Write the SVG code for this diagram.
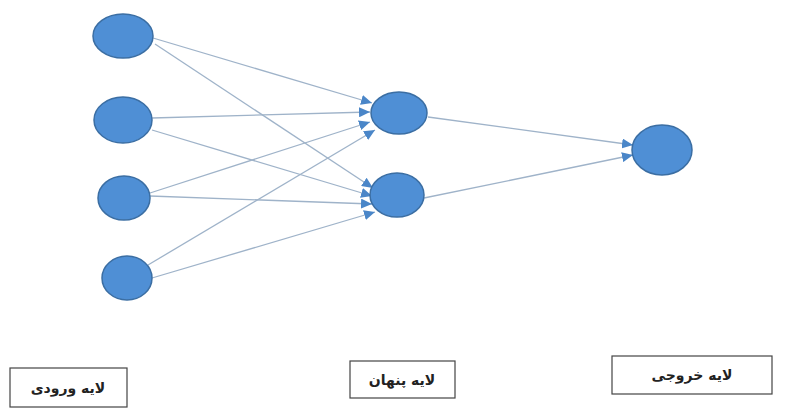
<svg xmlns="http://www.w3.org/2000/svg" width="800" height="416" viewBox="0 0 800 416">
<defs>
<marker id="arr" markerWidth="12" markerHeight="10" refX="11" refY="5" orient="auto" markerUnits="userSpaceOnUse">
<path d="M0,0 L11,5 L0,10 z" fill="#4a86c8"/>
</marker>
<style>
.node{fill:#4f8fd5;stroke:#3b6ea3;stroke-width:1.5}
.edge{stroke:#9fb3c9;stroke-width:1.3;fill:none;marker-end:url(#arr)}
.box{fill:#fff;stroke:#444;stroke-width:1.2}
.lbl{font-family:"DejaVu Sans",sans-serif;font-size:14px;font-weight:bold;fill:#222;text-anchor:middle}
</style>
</defs>
<rect width="800" height="416" fill="#fff"/>
<g id="connectors">
<line class="edge" x1="153" y1="38" x2="372" y2="103"/>
<line class="edge" x1="155" y1="44" x2="373" y2="188"/>
<line class="edge" x1="152" y1="118" x2="370" y2="112"/>
<line class="edge" x1="152" y1="130" x2="372" y2="196"/>
<line class="edge" x1="150" y1="193" x2="370" y2="122"/>
<line class="edge" x1="150" y1="196" x2="372" y2="204"/>
<line class="edge" x1="148" y1="265" x2="375" y2="130"/>
<line class="edge" x1="152" y1="278" x2="375" y2="212"/>
<line class="edge" x1="428" y1="117" x2="633" y2="145"/>
<line class="edge" x1="424" y1="198" x2="633" y2="155"/>
</g>
<g id="in1"><ellipse class="node" cx="123" cy="36" rx="30" ry="22"/></g>
<g id="in2"><ellipse class="node" cx="123" cy="120" rx="29" ry="23"/></g>
<g id="in3"><ellipse class="node" cx="124" cy="198" rx="26" ry="22"/></g>
<g id="in4"><ellipse class="node" cx="127" cy="278" rx="25" ry="22"/></g>
<g id="h1"><ellipse class="node" cx="399" cy="113" rx="28" ry="21"/></g>
<g id="h2"><ellipse class="node" cx="397" cy="195" rx="27" ry="22"/></g>
<g id="out"><ellipse class="node" cx="662" cy="150" rx="30" ry="25"/></g>
<g id="label-input"><rect class="box" x="10" y="368" width="117" height="39"/><text class="lbl" x="68" y="393" direction="rtl">لایه ورودی</text></g>
<g id="label-hidden"><rect class="box" x="350" y="361" width="105" height="37"/><text class="lbl" x="402" y="385" direction="rtl">لایه پنهان</text></g>
<g id="label-output"><rect class="box" x="612" y="356" width="160" height="38"/><text class="lbl" x="692" y="380" direction="rtl">لایه خروجی</text></g>
</svg>
